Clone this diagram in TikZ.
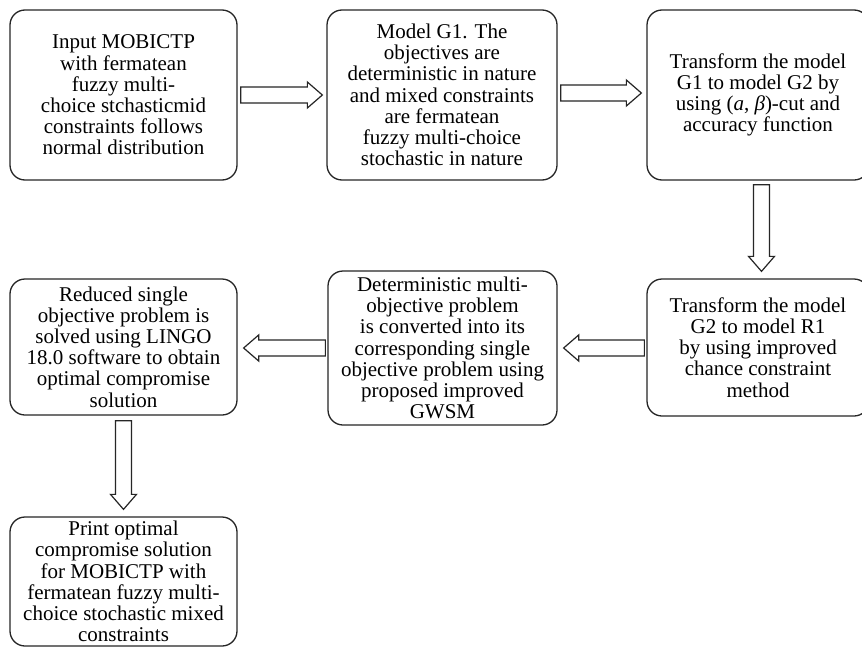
\documentclass[tikz,border=0pt]{standalone}
\usepackage{fontspec}
\setmainfont{Liberation Serif}
\usetikzlibrary{calc}
\tikzset{
  box/.style={draw=black!85, line width=1.3pt, rounded corners=15pt, align=center,
    inner sep=0pt, font=\fontsize{21}{21.2}\selectfont},
  barrow/.style={draw=black!85, line width=1.2pt, line join=miter, fill=white}
}
\newcommand\rarr[2]{\draw[barrow] let \p1=#1, \p2=#2 in
  (\x1,\y1+8pt) -- (\x2-15pt,\y1+8pt) -- (\x2-15pt,\y1+13pt) -- (\x2,\y1)
  -- (\x2-15pt,\y1-13pt) -- (\x2-15pt,\y1-8pt) -- (\x1,\y1-8pt) -- cycle;}
\newcommand\larr[2]{\draw[barrow] let \p1=#1, \p2=#2 in
  (\x1,\y1+8pt) -- (\x2+15pt,\y1+8pt) -- (\x2+15pt,\y1+13pt) -- (\x2,\y1)
  -- (\x2+15pt,\y1-13pt) -- (\x2+15pt,\y1-8pt) -- (\x1,\y1-8pt) -- cycle;}
\newcommand\darr[2]{\draw[barrow] let \p1=#1, \p2=#2 in
  (\x1-8pt,\y1) -- (\x1-8pt,\y2+15pt) -- (\x1-13pt,\y2+15pt) -- (\x1,\y2)
  -- (\x1+13pt,\y2+15pt) -- (\x1+8pt,\y2+15pt) -- (\x1+8pt,\y1) -- cycle;}
\begin{document}
\begin{tikzpicture}[x=1pt,y=1pt]
\useasboundingbox (0,0) rectangle (862,-648);
\clip (0,0) rectangle (862,-648);
\fill[white] (0,0) rectangle (862,-648);

\node[box, minimum width=227pt, minimum height=170pt] (B1) at (123.5,-95)
  {Input MOBICTP\\with fermatean\\fuzzy multi-\\choice stchasticmid\\constraints follows\\normal distribution};
\node[box, minimum width=230pt, minimum height=170pt] (B2) at (442,-95)
  {Model G1. The\\objectives are\\deterministic in nature\\and mixed constraints\\are fermatean\\fuzzy multi-choice\\stochastic in nature};
\node[box, minimum width=222pt, minimum height=170pt] (B3) at (758,-95)
  {Transform the model\\G1 to model G2 by\\using (\textit{a}, \textit{β})-cut and\\accuracy function};
\node[box, minimum width=222pt, minimum height=137pt] (R1) at (758,-347.5)
  {Transform the model\\G2 to model R1\\by using improved\\chance constraint\\method};
\node[box, minimum width=229pt, minimum height=154pt] (DM) at (442.5,-348)
  {Deterministic multi-\\objective problem\\is converted into its\\corresponding single\\objective problem using\\proposed improved\\GWSM};
\node[box, minimum width=227pt, minimum height=136pt] (RS) at (123.5,-347)
  {Reduced single\\objective problem is\\solved using LINGO\\18.0 software to obtain\\optimal compromise\\solution};
\node[box, minimum width=227pt, minimum height=129pt] (PR) at (123.5,-581.5)
  {Print optimal\\compromise solution\\for MOBICTP with\\fermatean fuzzy multi-\\choice stochastic mixed\\constraints};

\rarr{($(B1.east)+(3,0)$)}{($(B2.west)+(-4,0)$)}
\rarr{($(B2.east)+(3,2)$)}{($(B3.west)+(-5,2)$)}
\darr{($(B3.south)+(3.5,-4)$)}{($(R1.north)+(3.5,7)$)}
\larr{($(R1.west)+(-2,-0.5)$)}{($(DM.east)+(6,-0.5)$)}
\larr{($(DM.west)+(-2,0)$)}{($(RS.east)+(6,0)$)}
\darr{($(RS.south)+(0,-5)$)}{($(PR.north)+(0,7)$)}
\end{tikzpicture}
\end{document}
